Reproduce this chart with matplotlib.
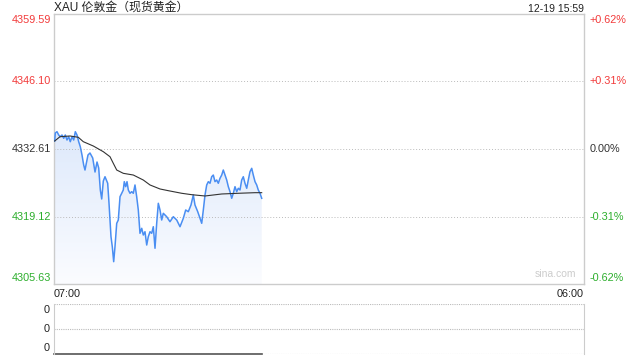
import matplotlib
matplotlib.use("Agg")
import matplotlib.pyplot as plt
import numpy as np
from matplotlib.colors import LinearSegmentedColormap

plt.rcParams['font.family'] = ['Liberation Sans', 'Noto Sans CJK SC', 'DejaVu Sans']

# minutes after 07:00 and price
price_min = [1.8, 3.4, 7.8, 12.2, 16.4, 20.8, 25.3, 29.4, 33.8, 38.3, 42.4, 46.9, 51.3, 55.5,
             59.9, 64.3, 68.5, 72.9, 77.3, 80.7, 88.5, 93.7, 100.8, 106.8, 112.0, 116.4, 120.6,
             124.2, 128.4,
             132.8, 139.8, 143.2, 148.4, 151.8, 155.4, 158.8, 163.3, 167.4, 171.9, 176.3, 180.4,
             183.0, 186.7, 190.1, 193.5, 197.9, 202.3, 206.5, 210.9, 215.3, 219.5, 223.9, 228.4,
             232.5, 236.9, 241.4, 245.5, 250.0, 254.4, 258.6, 263.0, 267.4, 271.6, 276.0, 280.4,
             284.6,
             293.4, 302.0, 310.6, 319.5, 328.1, 336.7, 342.9, 349.7, 356.7, 362.7, 367.1, 374.2,
             380.2, 384.6, 388.8, 393.2, 397.6, 401.8, 406.2, 410.6, 414.8, 419.2, 423.6, 427.8,
             432.2, 436.7, 440.8, 445.3, 449.7, 453.9, 458.3, 462.7, 466.9, 471.3, 475.7, 479.9,
             484.3, 488.7, 492.9, 497.3, 501.8, 505.9, 510.3, 514.8, 518.9, 523.4, 527.8, 531.9,
             536.4, 540.8]
price = [4334.21, 4335.81, 4336.07, 4335.41, 4335.07, 4335.41, 4334.75, 4335.41, 4334.41, 4335.07,
         4334.07, 4335.07, 4334.41, 4336.07, 4335.41, 4334.07, 4333.07, 4331.41, 4329.41, 4328.41,
         4331.41, 4331.81, 4330.81, 4328.01, 4330.01, 4328.81, 4324.42, 4322.62, 4326.22,
         4327.07, 4325.76, 4321.82, 4315.08, 4313.08, 4310.09, 4313.08, 4317.76, 4318.42, 4323.08,
         4323.76, 4324.42, 4326.08, 4325.08, 4326.08, 4324.42, 4323.76, 4324.08, 4323.76, 4325.42,
         4323.08, 4320.42, 4315.76, 4316.76, 4315.42, 4316.08, 4313.42, 4315.08, 4316.08, 4315.76,
         4317.08, 4312.77, 4317.76, 4321.76, 4320.42, 4318.42, 4319.76,
         4319.08, 4318.08, 4319.08, 4318.42, 4317.08, 4318.76, 4320.42, 4320.08, 4321.42, 4323.42,
         4321.42, 4320.08, 4318.76, 4317.76, 4320.42, 4323.42, 4325.42, 4326.08, 4325.76, 4327.07,
         4327.41, 4326.08, 4326.41, 4325.76, 4326.75, 4327.41, 4328.41, 4327.41, 4326.41, 4325.08,
         4324.08, 4322.76, 4323.76, 4325.08, 4324.08, 4324.76, 4324.42, 4326.41, 4327.07, 4325.76,
         4324.76, 4326.41, 4328.07, 4328.75, 4327.41, 4326.08, 4325.42, 4324.42, 4323.76, 4322.76]

avg_min = [1.8, 15.6, 41.7, 63.3, 76.3, 102.3, 128.4, 145.8, 154.4, 163.3, 180.4, 206.5, 232.5,
           250.0, 276.0, 297.6, 332.5, 358.5, 393.2, 436.7, 479.9, 523.4, 540.8]
avg_price = [4334.21, 4335.07, 4335.21, 4334.95, 4334.07, 4333.21, 4332.07, 4331.07, 4329.75,
             4328.41, 4327.75, 4327.41, 4326.41, 4325.42, 4324.62, 4324.28, 4323.76, 4323.48,
             4323.22, 4323.62, 4323.76, 4323.88, 4323.88]

y_ticks = [4359.59, 4346.10, 4332.61, 4319.12, 4305.63]
pct_ticks = ['+0.62%', '+0.31%', '0.00%', '-0.31%', '-0.62%']
x_labels = ['07:00', '06:00']
volume = [0, 0]
volume_min = [0, 540.8]
title = 'XAU 伦敦金（现货黄金）'
stamp = '12-19 15:59'

RED = '#f23a3a'
GREEN = '#2cae2c'
DARK = '#333333'
EDGE = '#cccccc'
total = 1380

fig = plt.figure(figsize=(6.4, 3.6), dpi=100)
ax = fig.add_axes([54 / 640, 76 / 360, 530 / 640, 270 / 360])
ax.set_xlim(0, total)
ax.set_ylim(y_ticks[-1], y_ticks[0])

# gradient fill under the price line
poly = ax.fill_between(price_min, price, y_ticks[-1], color='none', lw=0)
cmap = LinearSegmentedColormap.from_list('g', ['#fbfcff', '#dce8fb'])
grad = np.linspace(0, 1, 256).reshape(-1, 1)
img = ax.imshow(grad, extent=[0, total, y_ticks[-1], y_ticks[1] - 8], origin='lower',
                aspect='auto', cmap=cmap, zorder=1)
img.set_clip_path(poly.get_paths()[0], transform=ax.transData)

ax.plot(price_min, price, color='#4a8ef2', lw=1.1, zorder=3)
ax.plot(avg_min, avg_price, color=DARK, lw=0.8, zorder=4)

for yv in y_ticks[1:-1]:
    ax.axhline(yv, color='#bbbbbb', lw=0.7, ls=(0, (1, 2)), zorder=2)

ax.set_xticks([])
ax.set_yticks([])
for s in ax.spines.values():
    s.set_color(EDGE)
    s.set_linewidth(1)

colors = [RED, RED, DARK, GREEN, GREEN]
offsets = [-6, 0, 0, 0, 6]
for yv, pl, c, off in zip(y_ticks, pct_ticks, colors, offsets):
    ax.annotate(f'{yv:.2f}', (0, yv), xycoords=('axes fraction', 'data'),
                xytext=(-3, off), textcoords='offset pixels', ha='right', va='center',
                fontsize=7.8, color=c)
    ax.annotate(pl, (1, yv), xycoords=('axes fraction', 'data'),
                xytext=(6, off), textcoords='offset pixels', ha='left', va='center',
                fontsize=7.8, color=c)

ax.text(0.0, 1.0, title, transform=ax.transAxes, ha='left', va='bottom', fontsize=8.6,
        color='#222222')
ax.text(1.0, 1.0, stamp, transform=ax.transAxes, ha='right', va='bottom', fontsize=7.5,
        color='#222222')
ax.text(0.985, 0.02, 'sina.com', transform=ax.transAxes, ha='right', va='bottom',
        fontsize=7.5, color='#cccccc')
ax.text(0.0, -0.02, x_labels[0], transform=ax.transAxes, ha='left', va='top', fontsize=7.8,
        color='#222222')
ax.text(1.0, -0.02, x_labels[1], transform=ax.transAxes, ha='right', va='top', fontsize=7.8,
        color='#222222')

# volume panel
vx = fig.add_axes([54 / 640, 6 / 360, 530 / 640, 50 / 360])
vx.set_xlim(0, total)
vx.set_ylim(0, 1)
vx.set_xticks([])
vx.set_yticks([])
vx.spines['left'].set_color(EDGE)
vx.spines['right'].set_color(EDGE)
vx.spines['top'].set_visible(False)
vx.spines['bottom'].set_visible(False)
for yv in [0, 0.5, 1]:
    vx.axhline(yv, color='#bbbbbb', lw=0.8, ls=(0, (1, 1)))
vx.plot(volume_min, volume, color='#555555', lw=1.2, clip_on=False)
for yv, off in zip([1, 0.5, 0], [-6, 0, 6]):
    vx.annotate('0', (0, yv), xycoords=('axes fraction', 'data'), xytext=(-4, off),
                textcoords='offset pixels', ha='right', va='center', fontsize=7.8,
                color='#222222')

fig.savefig('out.png', dpi=100)
